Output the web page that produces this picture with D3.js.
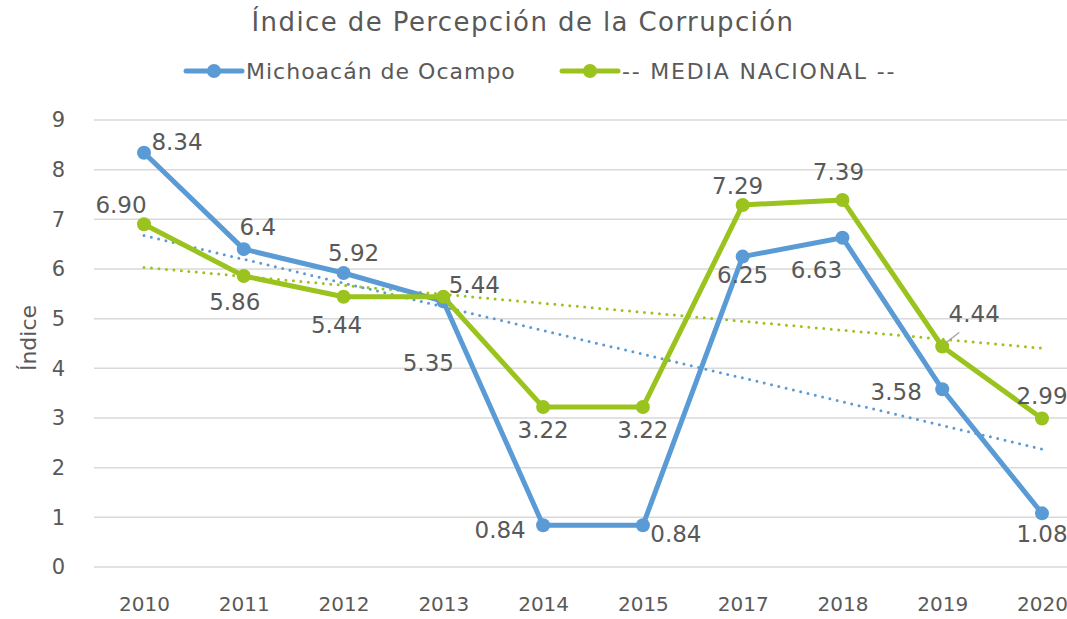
<!DOCTYPE html>
<html>
<head>
<meta charset="utf-8">
<script src="https://cdn.jsdelivr.net/npm/d3@7"></script>
<style>
  body { margin: 0; background: #fff; }
  svg { display: block; font-family: "DejaVu Sans", sans-serif; }
  .tick text { fill: #595959; }
</style>
</head>
<body>
<div id="chart"></div>
<script>
// Chart data
const years = ["2010", "2011", "2012", "2013", "2014", "2015", "2017", "2018", "2019", "2020"];
const michoacan = [8.34, 6.4, 5.92, 5.35, 0.84, 0.84, 6.25, 6.63, 3.58, 1.08];
const michoacanLabels = ["8.34", "6.4", "5.92", "5.35", "0.84", "0.84", "6.25", "6.63", "3.58", "1.08"];
const nacional = [6.90, 5.86, 5.44, 5.44, 3.22, 3.22, 7.29, 7.39, 4.44, 2.99];
const nacionalLabels = ["6.90", "5.86", "5.44", "5.44", "3.22", "3.22", "7.29", "7.39", "4.44", "2.99"];
const yTicks = [0, 1, 2, 3, 4, 5, 6, 7, 8, 9];

// Label placement (offset from point, px)
const blueOffsets = [[33, -11], [14, -22], [10, -20], [-15, 62], [-43, 5], [33, 9], [0, 18], [-26, 32], [-46, 3], [0, 21]];
const greenOffsets = [[-23, -19], [-9, 26], [-7, 28], [31, -12], [0, 23], [0, 23], [-5, -19], [-4, -28], [32, -33], [0, -23]];

const W = 1067, H = 619;

const svg = d3.select("#chart").append("svg")
  .attr("width", W)
  .attr("height", H);

const x = d3.scalePoint()
  .domain(years)
  .range([144, 1042]);

const y = d3.scaleLinear()
  .domain([0, 9])
  .range([567, 120]);

const blue = "#5B9BD5";
const green = "#9BC31E";
const textColor = "#595959";

// Gridlines
svg.append("g")
  .selectAll("line")
  .data(yTicks)
  .join("line")
  .attr("x1", 94)
  .attr("x2", 1092)
  .attr("y1", d => y(d))
  .attr("y2", d => y(d))
  .attr("stroke", "#d9d9d9")
  .attr("stroke-width", 1.5);

// Y axis labels
svg.append("g")
  .attr("transform", "translate(65,0)")
  .call(d3.axisLeft(y).tickValues(yTicks).tickSize(0).tickPadding(0))
  .call(g => g.select(".domain").remove())
  .selectAll("text")
  .attr("font-size", 21)
  .attr("font-family", "DejaVu Sans, sans-serif");

// X axis labels
svg.append("g")
  .attr("transform", "translate(0,567)")
  .call(d3.axisBottom(x).tickSize(0).tickPadding(30))
  .call(g => g.select(".domain").remove())
  .selectAll("text")
  .attr("font-size", 20)
  .attr("font-family", "DejaVu Sans, sans-serif");

// Title
svg.append("text")
  .attr("x", 523)
  .attr("y", 31)
  .attr("text-anchor", "middle")
  .attr("font-size", 26)
  .attr("letter-spacing", 1.4)
  .attr("fill", textColor)
  .text("Índice de Percepción de la Corrupción");

// Y axis title
svg.append("text")
  .attr("transform", "translate(36,338) rotate(-90)")
  .attr("text-anchor", "middle")
  .attr("font-size", 22)
  .attr("fill", textColor)
  .text("Índice");

// Trendlines (least squares on category index)
function regression(vals) {
  const xm = d3.mean(vals, (d, i) => i);
  const ym = d3.mean(vals);
  let sxy = 0, sxx = 0;
  vals.forEach((v, i) => { sxy += (i - xm) * (v - ym); sxx += (i - xm) * (i - xm); });
  const slope = sxy / sxx;
  return i => ym + slope * (i - xm);
}

function drawTrend(vals, color) {
  const f = regression(vals);
  svg.append("line")
    .attr("x1", x(years[0]))
    .attr("y1", y(f(0)))
    .attr("x2", x(years[years.length - 1]))
    .attr("y2", y(f(years.length - 1)))
    .attr("stroke", color)
    .attr("stroke-width", 3)
    .attr("stroke-linecap", "round")
    .attr("stroke-dasharray", "0,7.5");
}

drawTrend(michoacan, blue);
drawTrend(nacional, green);

const line = d3.line()
  .x((d, i) => x(years[i]))
  .y(d => y(d));

function drawSeries(vals, color) {
  svg.append("path")
    .datum(vals)
    .attr("d", line)
    .attr("fill", "none")
    .attr("stroke", color)
    .attr("stroke-width", 5)
    .attr("stroke-linejoin", "round");

  svg.append("g")
    .selectAll("circle")
    .data(vals)
    .join("circle")
    .attr("cx", (d, i) => x(years[i]))
    .attr("cy", d => y(d))
    .attr("r", 7)
    .attr("fill", color);
}

drawSeries(michoacan, blue);
drawSeries(nacional, green);

// Leader line for 4.44
svg.append("line")
  .attr("x1", x("2019") + 4)
  .attr("y1", y(4.44) - 4)
  .attr("x2", x("2019") + 17)
  .attr("y2", y(4.44) - 14)
  .attr("stroke", "#a6a6a6")
  .attr("stroke-width", 1.5);

function drawLabels(vals, labels, offsets) {
  svg.append("g")
    .selectAll("text")
    .data(vals)
    .join("text")
    .attr("x", (d, i) => x(years[i]) + offsets[i][0])
    .attr("y", (d, i) => y(d) + offsets[i][1])
    .attr("dy", "0.35em")
    .attr("text-anchor", "middle")
    .attr("font-size", 23)
    .attr("fill", textColor)
    .text((d, i) => labels[i]);
}

drawLabels(michoacan, michoacanLabels, blueOffsets);
drawLabels(nacional, nacionalLabels, greenOffsets);

// Legend
const legend = [
  { name: "Michoacán de Ocampo", color: blue, x: 186, spacing: 1.0 },
  { name: "-- MEDIA NACIONAL --", color: green, x: 562, spacing: 1.8 }
];
const lg = svg.append("g")
  .selectAll("g")
  .data(legend)
  .join("g")
  .attr("transform", d => `translate(${d.x},71)`);
lg.append("line")
  .attr("x1", 0).attr("x2", 56)
  .attr("stroke", d => d.color)
  .attr("stroke-width", 5)
  .attr("stroke-linecap", "round");
lg.append("circle")
  .attr("cx", 28)
  .attr("r", 7)
  .attr("fill", d => d.color);
lg.append("text")
  .attr("x", 60)
  .attr("dy", "0.35em")
  .attr("font-size", 22)
  .attr("letter-spacing", d => d.spacing)
  .attr("fill", textColor)
  .text(d => d.name);
</script>
</body>
</html>
